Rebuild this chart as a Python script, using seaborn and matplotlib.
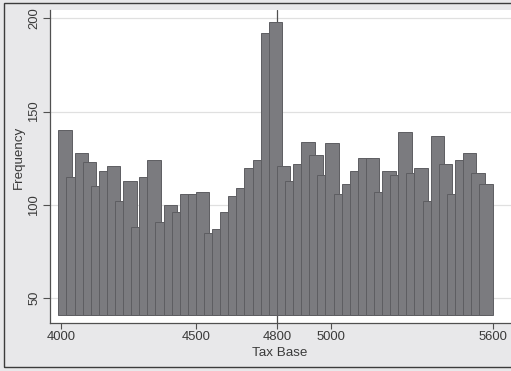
import numpy as np
import pandas as pd
import matplotlib
matplotlib.use("Agg")
import matplotlib.pyplot as plt
from matplotlib.patches import Rectangle
import seaborn as sns

# Frequencies per tax-base bin (bins of 30 starting at 4000)
frequency = [140, 115, 128, 123, 110, 118, 121, 102, 113, 88,
             115, 124, 91, 100, 96, 106, 106, 107, 85, 87,
             96, 105, 109, 120, 124, 192, 198,
             121, 113, 122, 134, 127, 116, 133, 106, 111, 118,
             125, 125, 107, 118, 116, 139, 117, 120, 102, 137,
             122, 106, 124, 128, 117, 111]
bin_start = 4000
bin_step = 30
bar_span = 50
x_ticks = [4000, 4500, 4800, 5000, 5600]
y_ticks = [50, 100, 150, 200]
kink = 4800

n_bins = len(frequency)
centers = bin_start + bin_step * (np.arange(n_bins) + 0.5)
df = pd.DataFrame({"tax_base": centers, "frequency": frequency})

sns.set_style("white")
plt.rcParams["font.family"] = ["Liberation Sans", "DejaVu Sans"]

W, H = 511, 371
outer_bg = "#e8e8ea"
axis_col = "#505050"
text_col = "#3a3a3a"
fig = plt.figure(figsize=(W / 100, H / 100), dpi=100, facecolor=outer_bg)

# plot region (white) in pixel units
left_px, right_px, top_px, bottom_px = 50.3, 511, 10, 322.7
ax = fig.add_axes([left_px / W, 1 - bottom_px / H,
                   (right_px - left_px) / W, (bottom_px - top_px) / H])
ax.set_facecolor("white")

sns.histplot(data=df, x="tax_base", weights="frequency",
             binwidth=bin_step, binrange=(bin_start, bin_start + bin_step * n_bins),
             shrink=bar_span / bin_step, color="#7b7b7f", edgecolor="#5e5e62",
             linewidth=0.7, alpha=1, ax=ax, zorder=2)

# bars rise from the floor of the plot region
base = 41.05
for p in ax.patches:
    top = p.get_y() + p.get_height()
    p.set_y(base)
    p.set_height(top - base)

ax.set_ylim(36.93, 204.45)
ax.set_xlim(3960.3, 5667.9)

ax.set_yticks(y_ticks)
ax.set_yticklabels([str(v) for v in y_ticks], rotation=90, va="center")
ax.set_xticks(x_ticks)
ax.set_xticklabels([str(v) for v in x_ticks])

ax.yaxis.grid(True, color="#e0e0e0", linewidth=0.9, zorder=0)
ax.xaxis.grid(False)
ax.set_axisbelow(True)
ax.axvline(kink, color=axis_col, linewidth=0.9, zorder=1)

for side in ("top", "right"):
    ax.spines[side].set_visible(False)
for side in ("left", "bottom"):
    ax.spines[side].set_color(axis_col)
    ax.spines[side].set_linewidth(0.9)

ax.tick_params(axis="x", direction="out", length=4.2, width=0.8, color=axis_col,
               labelsize=9.4, labelcolor=text_col, pad=1.5, bottom=True)
ax.tick_params(axis="y", direction="out", length=5, width=0.8, color=axis_col,
               labelsize=9.4, labelcolor=text_col, pad=2.3, left=True)

ax.set_xlabel("Tax Base", fontsize=9.6, color=text_col, va="center")
ax.xaxis.set_label_coords((279.7 - left_px) / (right_px - left_px),
                          (bottom_px - 353) / (bottom_px - top_px))
ax.set_ylabel("Frequency", fontsize=9.6, color=text_col, va="center")
ax.yaxis.set_label_coords((19 - left_px) / (right_px - left_px),
                          (bottom_px - 157.5) / (bottom_px - top_px))

# outer frame of the graph region
fig.add_artist(Rectangle((4 / W, 1 - 366.7 / H), (514 - 4) / W, (366.7 - 2.7) / H,
                         transform=fig.transFigure, fill=False,
                         edgecolor="#3c3c3c", linewidth=1.0))

fig.savefig("out.png", dpi=100, facecolor=outer_bg)
